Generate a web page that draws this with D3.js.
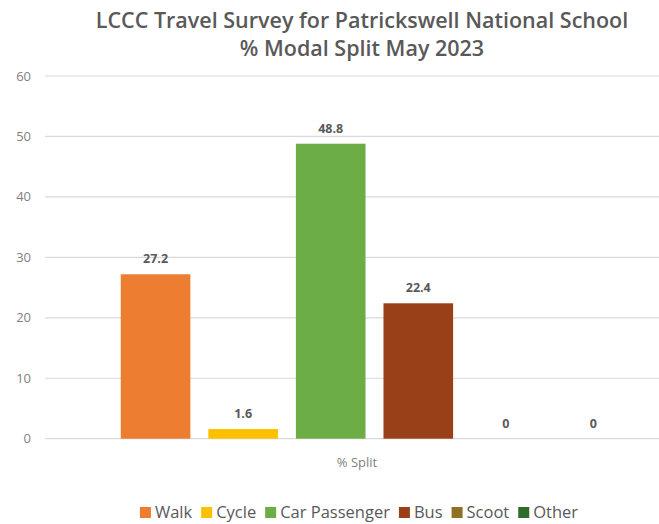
<!DOCTYPE html>
<html>
<head>
<meta charset="utf-8">
<script src="https://cdn.jsdelivr.net/npm/d3@7"></script>
<style>
  body { margin: 0; background: #fff; }
  text { font-family: "Open Sans", Lato, sans-serif; }
</style>
</head>
<body>
<script>
const modes = ['Walk', 'Cycle', 'Car Passenger', 'Bus', 'Scoot', 'Other'];
const values = [27.2, 1.6, 48.8, 22.4, 0, 0];
const colors = ['#ED7D31', '#FFC000', '#6DAD46', '#9A4019', '#8F7126', '#2F6B2A'];
const yTicks = [0, 10, 20, 30, 40, 50, 60];
const category = '% Split';
const titleLines = ['LCCC Travel Survey for Patrickswell National School', '% Modal Split May 2023'];

const width = 659;
const height = 524;

const svg = d3.select('body').append('svg')
  .attr('width', width)
  .attr('height', height);

const y = d3.scaleLinear().domain([0, 60]).range([438.7, 76]);
const x = d3.scaleBand().domain(modes).range([112, 637]).paddingInner(0.205).paddingOuter(0.1);

// title
svg.selectAll('.title')
  .data(titleLines)
  .enter()
  .append('text')
  .attr('class', 'title')
  .attr('x', 362)
  .attr('y', (d, i) => 28 + i * 28)
  .attr('text-anchor', 'middle')
  .style('font-size', '21.5px')
  .style('font-weight', '600')
  .style('fill', '#595959')
  .text(d => d);

// gridlines
svg.selectAll('.grid')
  .data(yTicks)
  .enter()
  .append('line')
  .attr('x1', 45)
  .attr('x2', 659)
  .attr('y1', d => y(d))
  .attr('y2', d => y(d))
  .style('stroke', '#d9d9d9')
  .style('stroke-width', 1.2);

// y labels
svg.selectAll('.ytick')
  .data(yTicks)
  .enter()
  .append('text')
  .attr('x', 31)
  .attr('y', d => y(d))
  .attr('dy', '0.35em')
  .attr('text-anchor', 'end')
  .style('font-size', '13px')
  .style('fill', '#7f7f7f')
  .text(d => d);

// bars
svg.selectAll('.bar')
  .data(modes)
  .enter()
  .append('rect')
  .attr('x', d => x(d))
  .attr('width', x.bandwidth())
  .attr('y', (d, i) => y(values[i]))
  .attr('height', (d, i) => y(0) - y(values[i]))
  .style('fill', (d, i) => colors[i]);

// value labels
svg.selectAll('.val')
  .data(modes)
  .enter()
  .append('text')
  .attr('x', d => x(d) + x.bandwidth() / 2)
  .attr('y', (d, i) => y(values[i]) - 11)
  .attr('text-anchor', 'middle')
  .style('font-size', '12.5px')
  .style('font-weight', 'bold')
  .style('fill', '#595959')
  .text((d, i) => values[i]);

// category label
svg.append('text')
  .attr('x', 357)
  .attr('y', 467)
  .attr('text-anchor', 'middle')
  .style('font-size', '13px')
  .style('fill', '#7f7f7f')
  .text(category);

// legend
const legend = svg.append('g');
const items = legend.selectAll('g')
  .data(modes)
  .enter()
  .append('g');
items.append('rect')
  .attr('width', 11)
  .attr('height', 11)
  .attr('y', -11)
  .style('fill', (d, i) => colors[i]);
items.append('text')
  .attr('x', 15)
  .style('font-size', '16.5px')
  .style('fill', '#595959')
  .text(d => d);

let cx = 0;
items.each(function() {
  const w = d3.select(this).select('text').node().getComputedTextLength();
  d3.select(this).attr('transform', `translate(${cx}, 0)`);
  cx += 15 + w + 9;
});
const total = cx - 9;
legend.attr('transform', `translate(${359 - total / 2}, 518)`);
</script>
</body>
</html>
